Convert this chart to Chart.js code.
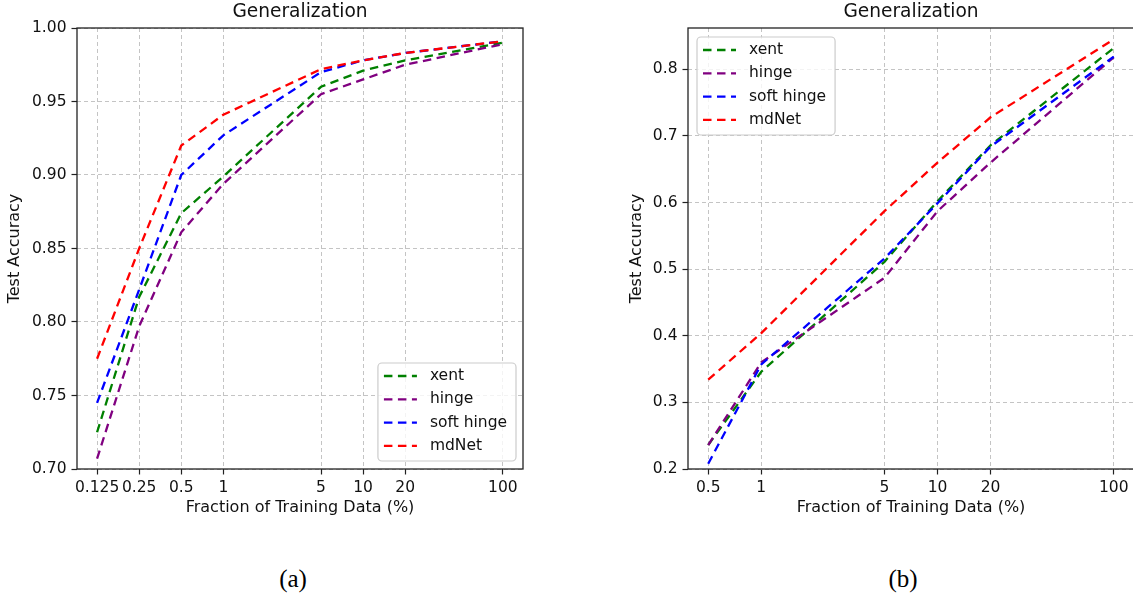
<!doctype html>
<html lang="en">
<head>
<meta charset="utf-8">
<title>Generalization</title>
<script src="https://cdn.jsdelivr.net/npm/chart.js@4.4.0/dist/chart.umd.min.js"></script>
<style>
  html, body { margin: 0; padding: 0; width: 1133px; height: 596px; overflow: hidden; background: #fff; }
  .plot { position: absolute; top: 0; }
  #chartA { left: 0; }
  #chartB { left: 600px; }
  .cap { position: absolute; top: 564px; width: 100px; text-align: center; color: #000;
         font: 25px "Liberation Serif", "Times New Roman", serif; line-height: 30px; }
</style>
</head>
<body>
<canvas id="chartA" class="plot" width="560" height="525"></canvas>
<canvas id="chartB" class="plot" width="560" height="525"></canvas>
<div class="cap" style="left:243px">(a)</div>
<div class="cap" style="left:853px">(b)</div>

<script>
'use strict';

// ---- data ----
const seriesNames  = ['xent', 'hinge', 'soft hinge', 'mdNet'];
const seriesColors = ['#008000', '#800080', '#0000ff', '#ff0000'];
const plotTitle = 'Generalization';

// (a)
const xA       = [0.125, 0.25, 0.5, 1, 5, 10, 20, 100];
const xLabelsA = ['0.125', '0.25', '0.5', '1', '5', '10', '20', '100'];
const xentA    = [0.725, 0.817, 0.874, 0.899, 0.960, 0.971, 0.978, 0.990];
const hingeA   = [0.707, 0.797, 0.861, 0.894, 0.955, 0.965, 0.975, 0.989];
const softA    = [0.745, 0.822, 0.900, 0.927, 0.970, 0.978, 0.983, 0.991];
const mdNetA   = [0.775, 0.850, 0.920, 0.941, 0.972, 0.978, 0.983, 0.991];

// (b)
const xB       = [0.5, 1, 5, 10, 20, 100];
const xLabelsB = ['0.5', '1', '5', '10', '20', '100'];
const xentB    = [0.236, 0.346, 0.511, 0.602, 0.686, 0.832];
const hingeB   = [0.236, 0.360, 0.487, 0.587, 0.660, 0.818];
const softB    = [0.208, 0.357, 0.516, 0.599, 0.684, 0.819];
const mdNetB   = [0.334, 0.404, 0.587, 0.660, 0.728, 0.845];

const FONT = '"DejaVu Sans", Verdana, sans-serif';
const TXT = '#111';

// title centred on the axes, spines, and a matplotlib-ish legend box
const framePlugin = {
  id: 'frameLegend',
  afterDraw(chart, args, opts) {
    const { ctx, chartArea: a } = chart;
    ctx.save();

    ctx.fillStyle = TXT;
    ctx.font = '18.6px ' + FONT;
    ctx.textAlign = 'center';
    ctx.textBaseline = 'middle';
    ctx.fillText(plotTitle, (a.left + a.right) / 2, 12.5);

    ctx.setLineDash([]);
    ctx.strokeStyle = '#222';
    ctx.lineWidth = 1.3;
    ctx.strokeRect(a.left, a.top, a.right - a.left, a.bottom - a.top);

    const sets = chart.data.datasets;
    ctx.font = '15.5px ' + FONT;
    const textW = Math.max(...sets.map(d => ctx.measureText(d.label).width));
    const w = 6 + 33 + 13 + textW + 9;
    const rowH = 23.3;
    const h = 98;
    const x = opts.corner === 'br' ? a.right - opts.dx - w : a.left + opts.dx;
    const y = opts.corner === 'br' ? a.bottom - opts.dy - h : a.top + opts.dy;
    const r = 4;
    ctx.beginPath();
    ctx.moveTo(x + r, y);
    ctx.arcTo(x + w, y, x + w, y + h, r);
    ctx.arcTo(x + w, y + h, x, y + h, r);
    ctx.arcTo(x, y + h, x, y, r);
    ctx.arcTo(x, y, x + w, y, r);
    ctx.closePath();
    ctx.fillStyle = 'rgba(255,255,255,0.8)';
    ctx.fill();
    ctx.strokeStyle = '#cccccc';
    ctx.lineWidth = 1.2;
    ctx.stroke();

    sets.forEach((d, i) => {
      const yy = y + 13 + i * rowH;
      ctx.beginPath();
      ctx.setLineDash([8.5, 5.5]);
      ctx.strokeStyle = d.borderColor;
      ctx.lineWidth = 2.3;
      ctx.moveTo(x + 6, yy);
      ctx.lineTo(x + 39, yy);
      ctx.stroke();
      ctx.setLineDash([]);
      ctx.fillStyle = TXT;
      ctx.textBaseline = 'middle';
      ctx.textAlign = 'left';
      ctx.fillText(d.label, x + 52, yy);
    });
    ctx.restore();
  }
};

function makeChart(id, xs, xLabels, series, cfg) {
  const datasets = series.map((vals, i) => ({
    label: seriesNames[i],
    data: xs.map((x, j) => ({ x, y: vals[j] })),
    borderColor: seriesColors[i],
    backgroundColor: seriesColors[i],
    borderWidth: 2.3,
    borderDash: [8.5, 5.5],
    pointRadius: 0,
    tension: 0,
    fill: false,
    order: series.length - 1 - i,
  }));

  return new Chart(document.getElementById(id), {
    type: 'line',
    data: { datasets },
    plugins: [framePlugin],
    options: {
      responsive: false,
      animation: false,
      layout: { padding: { left: 0, right: cfg.padRight, top: 28, bottom: 0 } },
      plugins: {
        legend: { display: false },
        tooltip: { enabled: false },
        title: { display: false },
        frameLegend: cfg.legend,
      },
      scales: {
        x: {
          type: 'logarithmic',
          min: cfg.xMin, max: cfg.xMax,
          afterBuildTicks: s => { s.ticks = xs.map(v => ({ value: v })); },
          afterFit: s => { s.height = 56; },
          ticks: {
            autoSkip: false, maxRotation: 0, minRotation: 0, padding: 4,
            color: TXT, font: { family: FONT, size: 15.5 },
            callback: (v) => { const k = xs.indexOf(v); return k >= 0 ? xLabels[k] : ''; },
          },
          grid: {
            color: '#c4c4c4', lineWidth: 1, drawTicks: true, tickLength: 5.5,
            tickColor: '#222', tickWidth: 1.2, tickBorderDash: [],
          },
          border: { display: false, dash: [4, 3] },
          title: {
            display: true, text: 'Fraction of Training Data (%)', color: TXT,
            font: { family: FONT, size: 16 }, padding: { top: 0, bottom: 7.4 },
          },
        },
        y: {
          type: 'linear',
          min: cfg.yMin, max: cfg.yMax,
          afterFit: s => { s.width = cfg.yWidth; },
          ticks: {
            stepSize: cfg.yStep, includeBounds: false, padding: 5,
            color: TXT, font: { family: FONT, size: 15.5 },
            callback: v => v.toFixed(cfg.yDec),
          },
          grid: {
            color: '#c4c4c4', lineWidth: 1, drawTicks: true, tickLength: 5.5,
            tickColor: '#222', tickWidth: 1.2, tickBorderDash: [],
          },
          border: { display: false, dash: [4, 3] },
          title: {
            display: true, text: 'Test Accuracy', color: TXT,
            font: { family: FONT, size: 16 }, padding: { top: cfg.yTitlePad, bottom: 0 },
          },
        },
      },
    },
  });
}

makeChart('chartA', xA, xLabelsA, [xentA, hingeA, softA, mdNetA], {
  xMin: 0.0898, xMax: 139.3, yMin: 0.70, yMax: 1.00, yStep: 0.05, yDec: 2,
  yWidth: 77, yTitlePad: 5.4, padRight: 37,
  legend: { corner: 'br', dx: 7, dy: 8 },
});

makeChart('chartB', xB, xLabelsB, [xentB, hingeB, softB, mdNetB], {
  xMin: 0.384, xMax: 130.3, yMin: 0.20, yMax: 0.862, yStep: 0.1, yDec: 1,
  yWidth: 88, yTitlePad: 27.4, padRight: 26,
  legend: { corner: 'tl', dx: 9, dy: 9 },
});
</script>
</body>
</html>
